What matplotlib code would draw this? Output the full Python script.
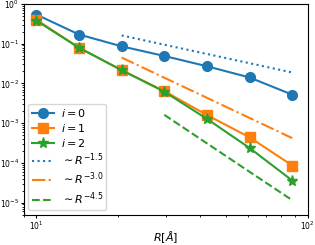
import matplotlib
matplotlib.use("Agg")
import matplotlib.pyplot as plt

# R 采样点（Å）
R = [10.0, 14.36, 20.62, 29.61, 42.52, 61.06, 87.7]

# 三条数据曲线
y_i0 = [0.54, 0.17, 0.0857, 0.049, 0.027, 0.0141, 0.0052]
y_i1 = [0.40, 0.079, 0.0215, 0.0064, 0.0016, 4.4e-4, 8.6e-5]
y_i2 = [0.38, 0.079, 0.0215, 0.0062, 1.28e-3, 2.37e-4, 3.6e-5]

# 参考幂律线
R_ref15 = R[2:]
y_ref15 = [0.161, 0.0942, 0.0551, 0.0322, 0.0188]
R_ref30 = R[2:]
y_ref30 = [0.0447, 0.0139, 0.00434, 0.00135, 4.2e-4]
R_ref45 = R[3:]
y_ref45 = [1.62e-3, 3.1e-4, 5.96e-5, 1.15e-5]

labels = ["$i=0$", "$i=1$", "$i=2$",
          r"$\sim R^{-1.5}$", r"$\sim R^{-3.0}$", r"$\sim R^{-4.5}$"]

fig = plt.figure(figsize=(3.15, 2.45), dpi=100)
ax = fig.add_axes([0.076, 0.124, 0.901, 0.860])

ax.plot(R, y_i0, "o-", color="C0", lw=1.5, ms=7, label=labels[0])
ax.plot(R, y_i1, "s-", color="C1", lw=1.5, ms=7, label=labels[1])
ax.plot(R, y_i2, "*-", color="C2", lw=1.5, ms=8, label=labels[2])
ax.plot(R_ref15, y_ref15, ":", color="C0", lw=1.5, label=labels[3])
ax.plot(R_ref30, y_ref30, "-.", color="C1", lw=1.5, label=labels[4])
ax.plot(R_ref45, y_ref45, "--", color="C2", lw=1.5, label=labels[5])

ax.set_xscale("log")
ax.set_yscale("log")
ax.set_xlim(9.0, 100)
ax.set_ylim(5e-6, 1.0)
ax.tick_params(which="major", labelsize=5.5, length=2.5, pad=1.0)
ax.tick_params(which="minor", length=1.5)
ax.set_xlabel(r"$R[\AA]$", fontsize=8, labelpad=-2)

ax.legend(loc="lower left", fontsize=8, handlelength=2.0,
          borderaxespad=0.4, labelspacing=0.25, borderpad=0.3,
          handletextpad=0.6)

fig.savefig("out.png", dpi=100)
